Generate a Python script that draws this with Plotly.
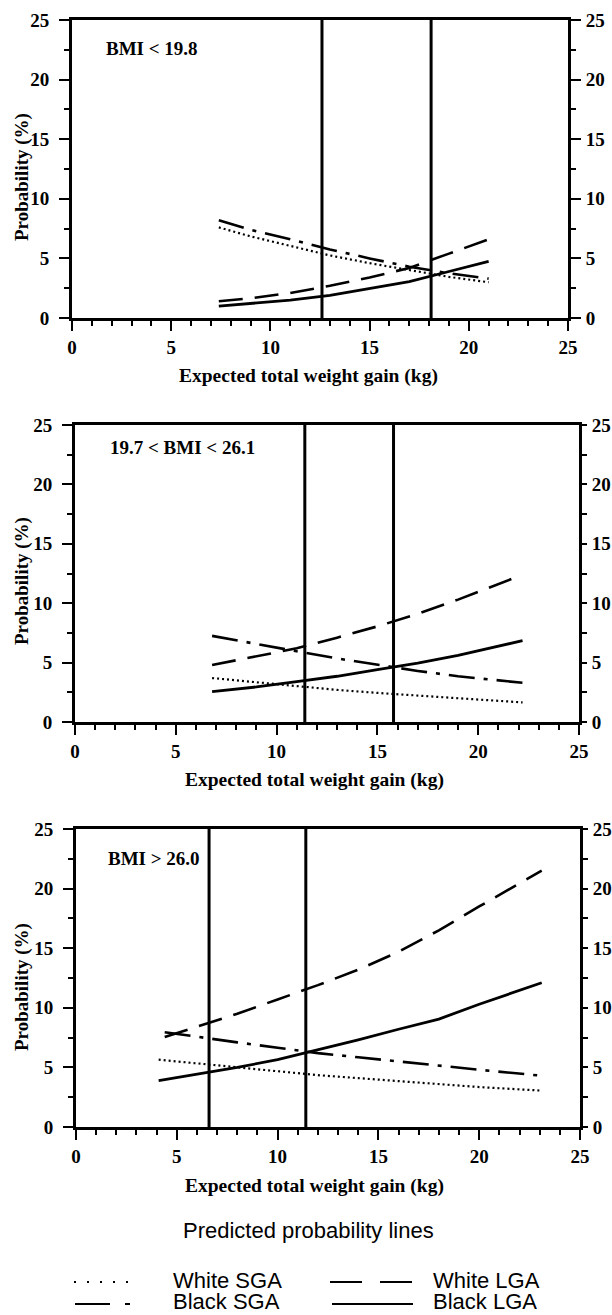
import plotly.graph_objects as go

W, H = 612, 1315
SERIF = "Liberation Serif, Times New Roman, serif"
SANS = "Liberation Sans, Arial, sans-serif"

# ---------------- data ----------------
# Panel 1: BMI < 19.8
p1_x = [7.4, 9, 11, 13, 15, 17, 19, 21]
p1_white_sga = [7.6, 6.85, 6.05, 5.25, 4.6, 4.0, 3.45, 3.0]
p1_black_sga = [8.2, 7.4, 6.6, 5.75, 5.0, 4.3, 3.75, 3.3]
p1_white_lga = [1.4, 1.65, 2.1, 2.7, 3.4, 4.2, 5.4, 6.6]
p1_black_lga = [1.0, 1.2, 1.5, 1.9, 2.45, 3.05, 3.9, 4.75]
p1_vlines = [12.6, 18.1]

# Panel 2: 19.7 < BMI < 26.1
p2_x = [6.8, 9, 11, 13, 15, 17, 19, 22.2]
p2_white_sga = [3.7, 3.35, 3.0, 2.7, 2.45, 2.2, 2.0, 1.65]
p2_black_sga = [7.25, 6.6, 5.95, 5.35, 4.8, 4.3, 3.85, 3.3]
p2_white_lga = [4.8, 5.5, 6.2, 7.1, 8.05, 9.1, 10.3, 12.4]
p2_black_lga = [2.55, 2.95, 3.4, 3.85, 4.4, 4.95, 5.6, 6.85]
p2_vlines = [11.4, 15.8]

# Panel 3: BMI > 26.0
p3_x = [4.1, 6, 8, 10, 12, 14, 16, 18, 20, 23.1]
p3_x_b = [4.4, 6, 8, 10, 12, 14, 16, 18, 20, 23.1]
p3_white_sga = [5.65, 5.35, 5.0, 4.7, 4.35, 4.1, 3.85, 3.6, 3.35, 3.05]
p3_black_lga = [3.9, 4.45, 5.0, 5.65, 6.45, 7.3, 8.2, 9.05, 10.3, 12.1]
p3_white_lga = [7.55, 8.4, 9.5, 10.7, 11.9, 13.2, 14.7, 16.5, 18.5, 21.5]
p3_black_sga = [7.95, 7.55, 7.1, 6.65, 6.2, 5.85, 5.5, 5.1, 4.8, 4.3]
p3_vlines = [6.6, 11.4]

panel_labels = ["BMI < 19.8", "19.7 < BMI < 26.1", "BMI > 26.0"]
series_names = ["White SGA", "Black SGA", "White LGA", "Black LGA"]
x_title = "Expected total weight gain (kg)"
y_title = "Probability (%)"
legend_title = "Predicted probability lines"

panels_data = [
    dict(xs=[p1_x, p1_x, p1_x, p1_x],
         ys=[p1_white_sga, p1_black_sga, p1_white_lga, p1_black_lga], vl=p1_vlines),
    dict(xs=[p2_x, p2_x, p2_x, p2_x],
         ys=[p2_white_sga, p2_black_sga, p2_white_lga, p2_black_lga], vl=p2_vlines),
    dict(xs=[p3_x, p3_x_b, p3_x_b, p3_x],
         ys=[p3_white_sga, p3_black_sga, p3_white_lga, p3_black_lga], vl=p3_vlines),
]

# ---------------- layout geometry (pixels) ----------------
geom = [
    dict(x=(72, 568), y=(20, 318), lab=(104, 49), xt=(308, 376), yt=(22, 177), rtl=10),
    dict(x=(75, 579), y=(425, 722), lab=(108, 447), xt=(315, 780), yt=(22, 581), rtl=5),
    dict(x=(76, 580), y=(829, 1127), lab=(106, 858), xt=(314, 1186), yt=(22, 987), rtl=5),
]

styles = {
    "White SGA": dict(color="black", width=2.2, dash="2px,3px"),
    "Black SGA": dict(color="black", width=2.6, dash="26px,9px,4px,9px"),
    "White LGA": dict(color="black", width=2.6, dash="24px,12px"),
    "Black LGA": dict(color="black", width=2.8, dash="solid"),
}


def px(x):
    return x / W


def py(y):
    return 1 - y / H


fig = go.Figure()
layout = {}
annotations = []
shapes = []

tickfont = dict(family=SERIF, size=19, color="black", weight="bold")

for i, (pdata, g) in enumerate(zip(panels_data, geom)):
    xa = "x" if i == 0 else f"x{i + 1}"
    yl = "y" if i == 0 else f"y{2 * i + 1}"
    yr = f"y{2 * i + 2}"
    for name, xs, ys in zip(series_names, pdata["xs"], pdata["ys"]):
        fig.add_trace(go.Scatter(x=xs, y=ys, mode="lines", name=name,
                                 line=styles[name], xaxis=xa, yaxis=yl,
                                 showlegend=False))
    for v in pdata["vl"]:
        fig.add_trace(go.Scatter(x=[v, v], y=[0, 25], mode="lines",
                                 line=dict(color="black", width=3),
                                 xaxis=xa, yaxis=yr, showlegend=False,
                                 hoverinfo="skip"))

    common = dict(range=[0, 25], tick0=0, dtick=5, ticks="outside", ticklen=10,
                  tickwidth=2, tickcolor="black", showline=True, linewidth=3,
                  linecolor="black", showgrid=False, zeroline=False,
                  tickfont=tickfont, automargin=False)
    xkey = "xaxis" if i == 0 else f"xaxis{i + 1}"
    layout[xkey] = dict(common, domain=[px(g["x"][0]), px(g["x"][1])], anchor=yl,
                        mirror=True, ticklabelstandoff=0,
                        minor=dict(dtick=1, ticks="outside", ticklen=5,
                                   tickwidth=1.5, tickcolor="black", showgrid=False))
    ydom = [py(g["y"][1]), py(g["y"][0])]
    ylkey = "yaxis" if i == 0 else f"yaxis{2 * i + 1}"
    yrkey = f"yaxis{2 * i + 2}"
    yminor = dict(dtick=2.5, ticks="outside", ticklen=5, tickwidth=1.5,
                  tickcolor="black", showgrid=False)
    layout[ylkey] = dict(common, domain=ydom, anchor=xa, side="left",
                         ticklabelstandoff=6, minor=yminor)
    layout[yrkey] = dict(common, domain=ydom, anchor=xa, side="right",
                         overlaying=yl, ticklen=g["rtl"], ticklabelstandoff=1,
                         minor=yminor)

    # panel label
    annotations.append(dict(text=panel_labels[i], x=px(g["lab"][0]), y=py(g["lab"][1]),
                            xref="paper", yref="paper", xanchor="left", yanchor="middle",
                            showarrow=False,
                            font=dict(family=SERIF, size=19, color="black", weight="bold")))
    # axis titles
    annotations.append(dict(text=x_title, x=px(g["xt"][0]), y=py(g["xt"][1]),
                            xref="paper", yref="paper", xanchor="center", yanchor="middle",
                            showarrow=False,
                            font=dict(family=SERIF, size=19.5, color="black", weight="bold")))
    annotations.append(dict(text=y_title, x=px(g["yt"][0]), y=py(g["yt"][1]),
                            xref="paper", yref="paper", xanchor="center", yanchor="middle",
                            textangle=-90, showarrow=False,
                            font=dict(family=SERIF, size=19, color="black", weight="bold")))

# ---------------- custom legend ----------------
annotations.append(dict(text=legend_title, x=px(308), y=py(1230), xref="paper", yref="paper",
                        xanchor="center", yanchor="middle", showarrow=False,
                        font=dict(family=SANS, size=22, color="black")))
leg_items = [
    ("White SGA", (74, 131), 1282, (172, 1280.5), "2px,11px", 2.2),
    ("Black SGA", (75, 130), 1304, (172, 1301.5), "35px,15px,5px,100px", 2.2),
    ("White LGA", (330, 413), 1282, (432, 1280.5), "32px,18px", 2.2),
    ("Black LGA", (332, 413), 1304, (432, 1301.5), "solid", 2.2),
]
for name, (sx0, sx1), sy, (tx, ty), dash, w in leg_items:
    shapes.append(dict(type="line", xref="paper", yref="paper",
                       x0=px(sx0), x1=px(sx1), y0=py(sy), y1=py(sy),
                       line=dict(color="black", width=w, dash=dash)))
    annotations.append(dict(text=name, x=px(tx), y=py(ty), xref="paper", yref="paper",
                            xanchor="left", yanchor="middle", showarrow=False,
                            borderpad=0,
                            font=dict(family=SANS, size=22, color="black")))

fig.update_layout(
    width=W, height=H,
    margin=dict(l=0, r=0, t=0, b=0, pad=0, autoexpand=False),
    paper_bgcolor="white", plot_bgcolor="white",
    showlegend=False,
    annotations=annotations,
    shapes=shapes,
    **layout,
)

fig.write_html(
    "out.html",
    config={"displayModeBar": False},
    post_script=("document.body.style.margin='0px';"
                 "document.body.style.padding='0px';"
                 "document.body.style.overflow='hidden';"),
)
